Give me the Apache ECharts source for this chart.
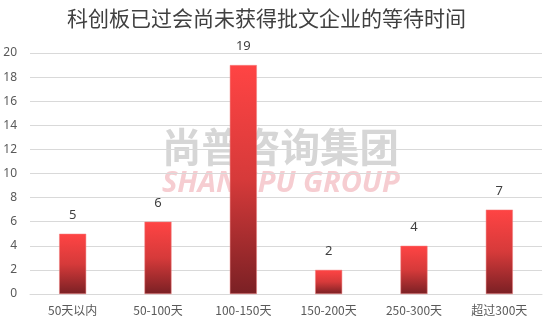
<!DOCTYPE html>
<html><head><meta charset="utf-8">
<script src="https://cdn.jsdelivr.net/npm/echarts@6/dist/echarts.min.js"></script>
<style>html,body{margin:0;padding:0;background:#fff}#c{width:550px;height:324px}</style>
</head><body><div id="c"></div>
<script>
const titleText = '科创板已过会尚未获得批文企业的等待时间';
const categories = ['50天以内','50-100天','100-150天','150-200天','250-300天','超过300天'];
const values = [5, 6, 19, 2, 4, 7];
const yTicks = {min: 0, max: 20, interval: 2};

const chart = echarts.init(document.getElementById('c'), null, {renderer:'canvas'});
chart.setOption({
  animation: false,
  backgroundColor: '#fff',
  title: {
    text: titleText, left: 62, top: 3,
    textStyle: {fontFamily: 'Noto Sans CJK SC', fontSize: 21, fontWeight: 'normal', color: '#404040'}
  },
  graphic: [
    {type:'text', left: 162, top: 127, z: -10, silent: true,
     style:{text:'尚普咨询集团', font:'bold 39.5px "Noto Sans CJK SC"', fill:'#d6d6d6'}},
    {type:'text', left: 162, top: 169, z: -10, silent: true,
     style:{text:'SHANGPU GROUP', font:'italic bold 29px "Open Sans"', fill:'#f6cdd1'}}
  ],
  grid: {left: 30, right: 8, top: 53, bottom: 30, containLabel: false},
  xAxis: {
    type: 'category', data: categories,
    axisLine: {lineStyle: {color: '#d9d9d9'}},
    axisTick: {show: false},
    axisLabel: {color: '#595959', fontSize: 12, fontFamily: 'Noto Sans CJK SC', margin: 10}
  },
  yAxis: {
    type: 'value', min: yTicks.min, max: yTicks.max, interval: yTicks.interval,
    axisLine: {show: false}, axisTick: {show: false},
    splitLine: {lineStyle: {color: '#d9d9d9'}},
    axisLabel: {color: '#595959', fontSize: 12, fontFamily: 'Noto Sans', margin: 13}
  },
  series: [{
    type: 'bar', data: values, barWidth: 27, z: 5,
    itemStyle: {
      color: new echarts.graphic.LinearGradient(0,0,0,1,[
        {offset:0, color:'#ff4444'},{offset:0.5, color:'#d63a3a'},{offset:1, color:'#7a2024'}]),
      borderColor: '#f08080', borderWidth: 0.5
    },
    label: {show: true, position: 'top', distance: 12, color: '#404040', fontSize: 13, fontFamily: 'Noto Sans'}
  }]
});
</script></body></html>
